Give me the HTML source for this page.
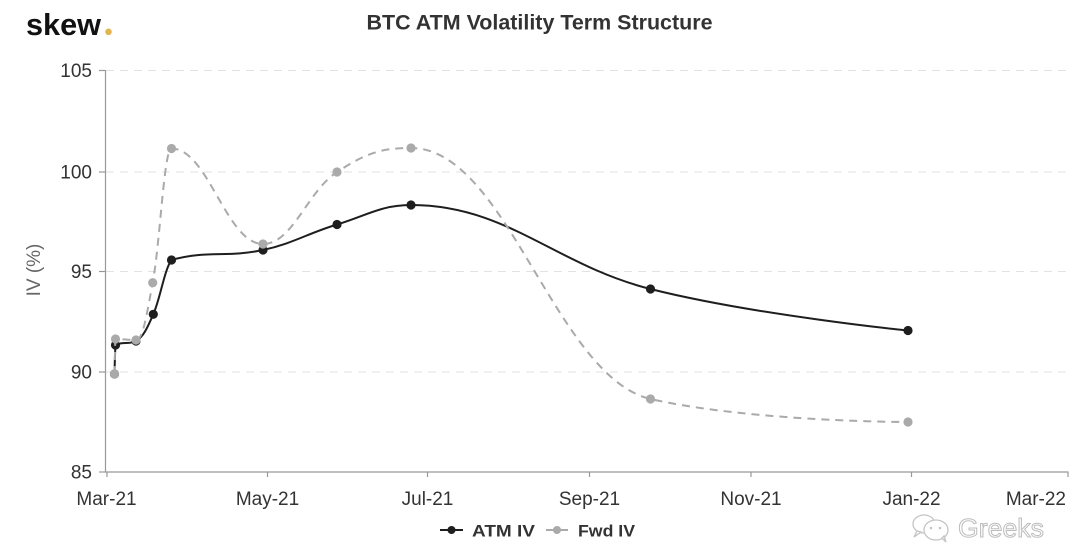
<!DOCTYPE html>
<html>
<head>
<meta charset="utf-8">
<style>
  html,body{margin:0;padding:0;background:#fff;}
  body{width:1080px;height:543px;overflow:hidden;}
  svg{display:block;font-family:"Liberation Sans",sans-serif;}
</style>
</head>
<body>
<svg id="c" width="1080" height="543" viewBox="0 0 1080 543" xmlns="http://www.w3.org/2000/svg">
  <rect x="0" y="0" width="1080" height="543" fill="#fff"/>

  <!-- logo -->
  <text x="26" y="35" font-size="31" font-weight="bold" fill="#111" textLength="75" lengthAdjust="spacingAndGlyphs">skew</text>
  <circle cx="108.5" cy="31.8" r="3.3" fill="#e3b552"/>

  <!-- title -->
  <text x="539.5" y="29.5" font-size="21" font-weight="bold" fill="#333" text-anchor="middle" textLength="346" lengthAdjust="spacingAndGlyphs">BTC ATM Volatility Term Structure</text>

  <!-- gridlines -->
  <g stroke="#e2e2e2" stroke-width="1" stroke-dasharray="8,6">
    <line x1="106" y1="70.5" x2="1068" y2="70.5"/>
    <line x1="106" y1="172" x2="1068" y2="172"/>
    <line x1="106" y1="271.5" x2="1068" y2="271.5"/>
    <line x1="106" y1="372" x2="1068" y2="372"/>
  </g>

  <!-- axes -->
  <g stroke="#999" stroke-width="1.2">
    <line x1="105.5" y1="70" x2="105.5" y2="472"/>
    <line x1="105" y1="472" x2="1068.5" y2="472"/>
    <line x1="99" y1="70.5" x2="105.5" y2="70.5"/>
    <line x1="99" y1="172" x2="105.5" y2="172"/>
    <line x1="99" y1="271.5" x2="105.5" y2="271.5"/>
    <line x1="99" y1="372" x2="105.5" y2="372"/>
    <line x1="99" y1="472" x2="105.5" y2="472"/>
    <line x1="107" y1="472" x2="107" y2="477"/>
    <line x1="267.5" y1="472" x2="267.5" y2="477"/>
    <line x1="427.5" y1="472" x2="427.5" y2="477"/>
    <line x1="589.5" y1="472" x2="589.5" y2="477"/>
    <line x1="751" y1="472" x2="751" y2="477"/>
    <line x1="911.5" y1="472" x2="911.5" y2="477"/>
    <line x1="1068" y1="472" x2="1068" y2="477"/>
  </g>

  <!-- y labels -->
  <g font-size="19" fill="#333" text-anchor="end">
    <text x="92" y="77">105</text>
    <text x="92" y="178.5">100</text>
    <text x="92" y="278">95</text>
    <text x="92" y="378.5">90</text>
    <text x="92" y="478.5">85</text>
  </g>

  <!-- y axis title -->
  <text transform="translate(40,270) rotate(-90)" font-size="19" fill="#666" text-anchor="middle">IV (%)</text>

  <!-- x labels -->
  <g font-size="19" fill="#333" text-anchor="middle">
    <text x="106.5" y="505">Mar-21</text>
    <text x="267.5" y="505">May-21</text>
    <text x="427.5" y="505">Jul-21</text>
    <text x="589.5" y="505">Sep-21</text>
    <text x="751" y="505">Nov-21</text>
    <text x="911.5" y="505">Jan-22</text>
    <text x="1066" y="505" text-anchor="end">Mar-22</text>
  </g>

  <!-- series -->
  <path id="atmLine" fill="none" stroke="#1e1e1e" stroke-width="2" stroke-linejoin="round" stroke-linecap="round"
    d="M114.5 374 L115.5 345 L136 341 L153.3 314.3 L171.5 260 L263 250 L337 224.5 L411 205 L650.5 289 L908 330.5"/>
  <g id="atmDots" fill="#1e1e1e">
    <circle cx="114.5" cy="374" r="4.6"/>
    <circle cx="115.5" cy="345" r="4.6"/>
    <circle cx="136" cy="341" r="4.6"/>
    <circle cx="153.3" cy="314.3" r="4.6"/>
    <circle cx="171.5" cy="260" r="4.6"/>
    <circle cx="263" cy="250" r="4.6"/>
    <circle cx="337" cy="224.5" r="4.6"/>
    <circle cx="411" cy="205" r="4.6"/>
    <circle cx="650.5" cy="289" r="4.6"/>
    <circle cx="908" cy="330.5" r="4.6"/>
  </g>

  <path id="fwdLine" fill="none" stroke="#aaaaaa" stroke-width="2" stroke-dasharray="8,6"
    d="M114.5 374 L115.5 339 L136 340 L152.7 282.7 L171.5 148.5 L263 244 L337 172 L411 148 L650.5 399 L908 422"/>
  <g id="fwdDots" fill="#aaaaaa">
    <circle cx="114.5" cy="374" r="4.6"/>
    <circle cx="115.5" cy="339" r="4.6"/>
    <circle cx="136" cy="340" r="4.6"/>
    <circle cx="152.7" cy="282.7" r="4.6"/>
    <circle cx="171.5" cy="148.5" r="4.6"/>
    <circle cx="263" cy="244" r="4.6"/>
    <circle cx="337" cy="172" r="4.6"/>
    <circle cx="411" cy="148" r="4.6"/>
    <circle cx="650.5" cy="399" r="4.6"/>
    <circle cx="908" cy="422" r="4.6"/>
  </g>

  <!-- legend -->
  <line x1="440" y1="530" x2="463" y2="530" stroke="#1e1e1e" stroke-width="2"/>
  <circle cx="451.5" cy="530" r="4" fill="#1e1e1e"/>
  <text x="472" y="536.5" font-size="17" font-weight="bold" fill="#333" textLength="63" lengthAdjust="spacingAndGlyphs">ATM IV</text>
  <line x1="546" y1="530" x2="568" y2="530" stroke="#aaa" stroke-width="2"/>
  <circle cx="557" cy="530" r="4" fill="#aaa"/>
  <text x="578" y="536.5" font-size="17" font-weight="bold" fill="#333" textLength="57" lengthAdjust="spacingAndGlyphs">Fwd IV</text>

  <!-- watermark -->
  <g fill="#fff" stroke="#c4c4c4" stroke-width="1.3">
    <ellipse cx="924" cy="524" rx="11" ry="9"/>
    <path d="M917 531 L914 537 L921 532 Z"/>
    <ellipse cx="936" cy="530" rx="12" ry="10"/>
    <path d="M942 538 L946 542 L944 536 Z"/>
  </g>
  <g fill="#c4c4c4">
    <circle cx="931" cy="528" r="1.3"/>
    <circle cx="940" cy="528" r="1.3"/>
  </g>
  <text x="958" y="537" font-size="26" fill="#fff" stroke="#bdbdbd" stroke-width="1" textLength="86" lengthAdjust="spacingAndGlyphs">Greeks</text>
</svg>
<script>
(function(){
  function spline(pts){
    var s=1.5,den=s+1,d='M'+pts[0][0]+' '+pts[0][1],prx=null,pry=null;
    for(var i=1;i<pts.length;i++){
      var p=pts[i],l=pts[i-1],n=pts[i+1],lcx,lcy,rcx=null,rcy=null;
      if(n){
        lcx=(s*p[0]+l[0])/den; lcy=(s*p[1]+l[1])/den;
        rcx=(s*p[0]+n[0])/den; rcy=(s*p[1]+n[1])/den;
        if(rcx!==lcx){
          var c=((rcy-lcy)*(rcx-p[0]))/(rcx-lcx)+p[1]-rcy;
          lcy+=c; rcy+=c;
          if(lcy>l[1]&&lcy>p[1]){lcy=Math.max(l[1],p[1]);rcy=2*p[1]-lcy;}
          else if(lcy<l[1]&&lcy<p[1]){lcy=Math.min(l[1],p[1]);rcy=2*p[1]-lcy;}
          if(rcy>n[1]&&rcy>p[1]){rcy=Math.max(n[1],p[1]);lcy=2*p[1]-rcy;}
          else if(rcy<n[1]&&rcy<p[1]){rcy=Math.min(n[1],p[1]);lcy=2*p[1]-rcy;}
        }
      } else {lcx=p[0];lcy=p[1];}
      var a=(prx!==null)?prx:l[0], b=(pry!==null)?pry:l[1];
      d+=' C'+a.toFixed(2)+' '+b.toFixed(2)+' '+lcx.toFixed(2)+' '+lcy.toFixed(2)+' '+p[0]+' '+p[1];
      prx=rcx; pry=rcy;
    }
    return d;
  }
  var atm=[[114.5,374],[115.5,345],[136,341],[153.3,314.3],[171.5,260],[263,250],[337,224.5],[411,205],[650.5,289],[908,330.5]];
  var fwd=[[114.5,374],[115.5,339],[136,340],[152.7,282.7],[171.5,148.5],[263,244],[337,172],[411,148],[650.5,399],[908,422]];
  document.getElementById('atmLine').setAttribute('d',spline(atm));
  document.getElementById('fwdLine').setAttribute('d',spline(fwd));
})();
</script>
</body>
</html>
